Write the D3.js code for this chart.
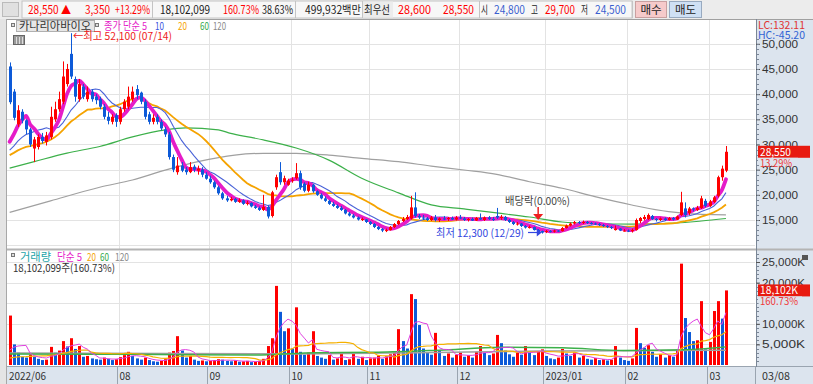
<!DOCTYPE html>
<html><head><meta charset="utf-8">
<script src="https://cdn.jsdelivr.net/npm/d3@7"></script>
<style>
html,body{margin:0;padding:0;background:#fff;overflow:hidden}
svg{display:block;font-family:"Noto Sans CJK KR","Noto Sans",sans-serif}
</style></head><body>
<svg id="c" width="813" height="384"></svg>
<script>
// ---------------- DATA ----------------
const stockName = "카나리아바이오";
// closes of the 19 sessions before the first visible candle (inferred from MA start levels)
const priorCloses = [26500,27000,27300,26800,26600,27200,27000,26900,26700,26900,27400,27000,27300,27200,27350,28000,28500,28800,29000];
const opens = [45500,40500,34000,36500,34800,33000,29200,29500,31500,30500,31500,35000,37000,38500,42000,48000,43000,39000,41500,39000,
40500,39500,39000,37500,35500,34500,35800,34500,37000,37500,39000,41000,40300,38500,36000,34500,35500,34500,33000,32000,
27500,24500,25800,25000,24500,25600,24800,25000,24000,23200,22500,21500,20300,19300,18900,19200,18600,18900,18200,18400,
17700,17400,17000,17600,15800,21500,24500,22500,22000,22800,23300,24300,22200,20800,22000,20700,20000,19300,18800,18200,
17800,17400,17000,16300,15900,15500,15000,15100,14600,14200,13600,13200,12800,13000,13600,14200,14800,15200,15300,17500,
15800,15500,15300,15000,15500,15000,15300,15200,15400,15100,15500,15300,15000,15200,14900,15400,15000,15500,15200,15800,
15500,15600,15000,14600,14200,14300,13800,13500,13600,13000,12800,12600,12800,12700,12900,12800,13400,13900,14300,14600,
14400,14600,14400,14300,14200,14000,13800,13600,13000,13300,12800,12900,12800,13000,14800,15200,15200,15800,15200,15000,
15300,15000,15400,15100,16000,17300,16400,17300,17000,17400,18800,17800,18600,19800,23500,24800];
const highs = [46300,41000,37800,37000,35000,33300,31500,32000,32300,32500,37500,38500,40500,46500,46000,52100,43500,43000,42000,41500,
41000,40000,39500,38000,36500,36000,36200,37500,39000,41500,41500,41800,40500,39000,36500,36000,36000,35000,33500,32500,
28000,27500,26500,25500,26500,26000,25800,25500,24500,23800,22800,21800,20600,19800,19600,19400,19300,19100,18800,18500,
18000,17700,20000,17900,20800,24000,26500,23800,23200,23500,26300,24800,22500,22600,22200,20900,20300,19700,19000,18600,
18100,17800,17200,16600,16200,15700,15500,15200,14800,14400,13800,13400,13300,13800,14400,15000,15600,16000,19800,20500,
16200,16000,15600,15800,16000,15500,15800,15600,15700,15800,16000,15600,15400,15500,15600,16300,15700,15800,15600,17400,
16000,15800,15200,14800,14600,14400,14000,13900,13700,13200,12900,13000,13000,13100,13000,13600,14100,14500,14800,14800,
14900,14800,14600,14500,14400,14200,14000,13800,13900,13400,13200,13100,13300,15300,15600,16000,16300,16000,15400,15500,
15500,15600,15600,15900,20600,18500,17600,17500,17800,19800,19200,19000,19800,23800,25800,29700];
const lows = [38000,34800,33500,34200,32000,29500,26500,29000,30200,29800,31000,34500,36500,38000,41500,43000,38500,38500,39000,38500,
38500,38000,37000,35000,34000,34000,33500,34000,36500,37000,38500,39000,38000,35000,34000,34000,34000,32800,31500,27000,
24500,24000,24500,24000,24300,24500,24000,23500,23000,22200,21200,20000,19000,18600,18700,18400,18400,18000,17900,17500,
17200,16800,16800,15300,15500,21000,22000,22000,21800,22400,23000,21000,20500,20500,20400,19800,19100,18600,18000,17600,
17200,16800,16100,15700,15300,14900,14800,14400,14000,13400,13000,12600,12600,12900,13400,14000,14600,15000,15100,15500,
15200,15000,14800,14800,14700,14600,15000,14800,15000,14900,15200,14800,14700,14800,14800,15000,14800,15000,14800,15200,
15000,14800,14400,14000,13900,13600,13300,13300,12900,12600,12300,12400,12500,12500,12600,12700,13300,13700,14100,14200,
14200,14200,14100,14000,13800,13600,13400,13200,12900,12800,12700,12600,12500,12900,14400,14900,15000,15000,14700,14800,
14800,14900,14900,15000,15800,15500,16000,16700,16800,17200,17500,17600,18400,19500,22800,24500];
const closes = [38400,35300,36800,34800,33000,30000,31000,31500,30700,31800,35500,37000,39000,43500,45000,43500,39500,42000,39500,40500,
39000,38800,37500,35500,34700,35500,34500,37000,38500,39500,40500,39800,38500,35500,34500,35300,34500,33200,32000,27500,
25000,25800,24800,24500,25500,25000,25200,24000,23200,22500,21500,20300,19300,18900,19200,18600,18900,18200,18400,17700,
17400,17000,17600,15700,20500,23500,22500,23300,22800,23000,24300,21500,20800,22000,20700,20000,19300,18800,18200,17800,
17400,17000,16300,15900,15500,15100,15200,14600,14200,13600,13200,12900,13000,13600,14200,14800,15200,15600,17500,15800,
15500,15300,15000,15500,15000,15300,15200,15400,15100,15500,15300,15000,15200,14900,15400,15100,15500,15200,15000,15500,
15600,15000,14600,14200,14300,13800,13500,13600,13000,12800,12500,12800,12700,12900,12800,13400,13900,14300,14600,14400,
14600,14400,14300,14200,14000,13800,13600,13400,13300,12900,12900,12800,13000,15000,15400,15600,16000,15200,15000,15300,
15000,15400,15100,15700,18500,16000,17300,17200,17400,19300,17800,18700,19500,23500,25200,28550];
// volume in thousand shares
const priorVolumes = [900,1100,1000,1200,800,1000,1100,900,1000,1200,1000,900,1100,1000,800,1400,1600,1500,1500];
const volumes = [12000,5000,3000,2000,1800,2500,2000,1500,1200,1300,4400,3000,3500,5800,4500,6500,3900,4600,2000,2200,
1600,1400,1300,1800,1500,1200,1400,1900,2400,3200,2200,1600,1300,1800,1200,900,800,1000,1400,3000,
3400,7000,3500,1800,2200,1300,1000,1100,900,1000,1200,1400,1300,1000,900,1100,800,900,1000,700,
800,1000,1500,4600,6500,19200,12900,8200,8900,4000,14000,3200,2500,3000,8200,2200,1800,1500,2400,1300,
1600,3000,1200,1400,2800,1500,2000,1200,1600,1800,2300,1500,2100,2600,3000,8700,5800,4000,17200,16000,
9700,4000,3000,2500,7800,3500,2200,2800,1800,2500,3000,2000,2400,1800,3200,4600,3000,2400,2800,7300,
5300,3500,2600,2000,3000,2500,4600,3000,2400,3200,3800,2200,1600,1400,1800,3900,2800,2200,3000,1800,
2200,1500,1300,1700,1200,1400,1100,1300,4600,1800,1200,1000,1600,9000,5300,4200,4800,3200,2000,2600,
1800,2400,2000,3500,24600,11400,8000,5800,6000,15500,3800,5600,13100,15500,11263,18102];
// long moving averages (candle index, value)
const ma60Idx = [0,6,14,22,30,38,43,51,54,59,62,70,78,86,95,103,111,119,127,135,143,152,163,169,175];
const ma60Val = [25300,26600,28300,29600,31500,32900,33300,32900,32200,31400,30900,29300,26900,23300,20400,18000,17200,16400,15600,14600,14300,14200,14400,14800,15300];
const ma120Idx = [0,10,22,30,38,46,55,62,70,78,86,95,103,111,119,127,135,143,152,161,165,175];
const ma120Val = [16500,18800,21500,22950,24900,26580,27900,28240,28240,27900,27250,26580,25720,24930,24080,22600,21300,19630,17980,16650,16330,16000];
const volMa60Idx = [0,30,60,75,90,105,120,135,150,165,175];
const volMa60Val = [2700,2600,2400,3000,3100,3600,4300,4200,3500,3700,4400];
const volMa120Idx = [0,40,70,100,130,160,175];
const volMa120Val = [2900,2800,2700,3000,3400,3500,3600];
// axis labels
const monthTickIdx = [27,49,69,88,110,131,151,171];
const monthTickLabels = ["08","09","10","11","12","2023/01","02","03"];
const firstLabel = "2022/06", lastLabel = "03/08";
const priceTicks = [15000,20000,25000,30000,35000,40000,45000,50000];
const volTicks = [5000,10000,20000,25000];
const volGridTicks = [5000,10000,15000,20000,25000];
const highIdx = 15, highText = "←최고 52,100 (07/14)";
const lowIdx = 130, lowText = "최저 12,300 (12/29)";
const exDivIdx = 129, exDivText = "배당락(0.00%)";

// ---------------- DRAW ----------------
const RED="#ff0000", BLUE="#0d5ad8", AXBG="#dce4ee";
const svg=d3.select("#c");
const plotL=7, plotR=755, pTop=20, pBot=249, vTop=251, vBot=366;
const x=d3.scaleLinear().domain([-0.65,182.1]).range([plotL,plotR]);
const yP=d3.scaleLinear().domain([15000,50000]).range([220,43.8]);
const yV=d3.scaleLinear().domain([0,25000]).range([365,262]);

svg.append("rect").attr("width",813).attr("height",384).attr("fill","#fff");
svg.append("rect").attr("x",0).attr("y",19).attr("width",6).attr("height",365).attr("fill","#e4e4e4");
svg.append("line").attr("x1",6.5).attr("x2",6.5).attr("y1",19).attr("y2",384).attr("stroke","#a8a8a8");
svg.append("rect").attr("x",756).attr("y",19).attr("width",57).attr("height",348).attr("fill",AXBG);
svg.append("rect").attr("x",7).attr("y",366).attr("width",806).attr("height",18).attr("fill",AXBG);

const defs=svg.append("defs");
defs.append("clipPath").attr("id","cp").append("rect").attr("x",plotL).attr("y",pTop).attr("width",plotR-plotL+1).attr("height",pBot-pTop);
defs.append("clipPath").attr("id","cv").append("rect").attr("x",plotL).attr("y",vTop).attr("width",plotR-plotL+1).attr("height",vBot-vTop);

// gridlines
const grid=svg.append("g").attr("stroke","#e3e3e3").attr("stroke-width",1);
[10000].concat(priceTicks).forEach(v=>{const yy=Math.round(yP(v))+0.5; if(yy>pTop&&yy<pBot) grid.append("line").attr("x1",plotL).attr("x2",plotR).attr("y1",yy).attr("y2",yy);});
volGridTicks.forEach(v=>{const yy=Math.round(yV(v))+0.5; grid.append("line").attr("x1",plotL).attr("x2",plotR).attr("y1",yy).attr("y2",yy);});
monthTickIdx.forEach(i=>{const xx=Math.round(x(i))-0.5;
  grid.append("line").attr("x1",xx).attr("x2",xx).attr("y1",pTop).attr("y2",pBot);
  grid.append("line").attr("x1",xx).attr("x2",xx).attr("y1",vTop).attr("y2",vBot);});

// moving averages
function sma(vals, prior, n){
  const all=prior.concat(vals), off=prior.length;
  return vals.map((_,i)=>{const j=i+off; if(j-n+1<0) return null; let s=0; for(let k=j-n+1;k<=j;k++) s+=all[k]; return s/n;});
}
const ma5=sma(closes,priorCloses,5), ma10=sma(closes,priorCloses,10), ma20=sma(closes,priorCloses,20);
const vma5=sma(volumes,priorVolumes,5), vma20=sma(volumes,priorVolumes,20);
const lineOf=(sy)=>d3.line().defined(d=>d!=null).x((d,i)=>x(i)).y(d=>sy(d));
const sparse=(sy)=>d3.line().curve(d3.curveMonotoneX).x(d=>x(d[0])).y(d=>sy(d[1]));

const gp=svg.append("g").attr("clip-path","url(#cp)");
gp.append("path").attr("d",sparse(yP)(d3.zip(ma120Idx,ma120Val))).attr("fill","none").attr("stroke","#a0a0a0").attr("stroke-width",1.2);
gp.append("path").attr("d",sparse(yP)(d3.zip(ma60Idx,ma60Val))).attr("fill","none").attr("stroke","#3cb04a").attr("stroke-width",1.2);
gp.append("path").attr("d",lineOf(yP)(ma20)).attr("fill","none").attr("stroke","#f5a300").attr("stroke-width",1.8);
gp.append("path").attr("d",lineOf(yP)(ma10)).attr("fill","none").attr("stroke","#4a63d8").attr("stroke-width",1.1);
gp.append("path").attr("d",d3.line().curve(d3.curveMonotoneX).defined(d=>d!=null).x((d,i)=>x(i)).y(d=>yP(d))(ma5)).attr("fill","none").attr("stroke","#e51cc8").attr("stroke-width",3.8).attr("stroke-linejoin","round").attr("stroke-linecap","round");

// candles
const cg=gp.append("g");
closes.forEach((c,i)=>{
  const o=opens[i], up=c>=o, col=up?RED:BLUE, xx=Math.round(x(i));
  cg.append("line").attr("x1",xx+0.5).attr("x2",xx+0.5).attr("y1",yP(highs[i])).attr("y2",yP(lows[i])).attr("stroke",col).attr("stroke-width",1);
  const y1=yP(Math.max(o,c)), y2=yP(Math.min(o,c));
  cg.append("rect").attr("x",xx-1).attr("width",3).attr("y",y1).attr("height",Math.max(1,y2-y1)).attr("fill",col);
});

// volume
const gv=svg.append("g").attr("clip-path","url(#cv)");
volumes.forEach((v,i)=>{
  const prev=i===0?priorVolumes[priorVolumes.length-1]:volumes[i-1];
  const col=v>=prev?RED:BLUE, xx=Math.round(x(i));
  gv.append("rect").attr("x",xx-1).attr("width",3).attr("y",yV(v)).attr("height",yV(0)-yV(v)).attr("fill",col);
});
gv.append("path").attr("d",sparse(yV)(d3.zip(volMa120Idx,volMa120Val))).attr("fill","none").attr("stroke","#a0a0a0").attr("stroke-width",1.5);
gv.append("path").attr("d",sparse(yV)(d3.zip(volMa60Idx,volMa60Val))).attr("fill","none").attr("stroke","#3cb04a").attr("stroke-width",1.5);
gv.append("path").attr("d",lineOf(yV)(vma20)).attr("fill","none").attr("stroke","#f5b000").attr("stroke-width",1.2);
gv.append("path").attr("d",lineOf(yV)(vma5)).attr("fill","none").attr("stroke","#e040e0").attr("stroke-width",1);

// panel borders
svg.append("line").attr("x1",7).attr("x2",813).attr("y1",19.5).attr("y2",19.5).attr("stroke","#a0a0a0");
svg.append("rect").attr("x",7).attr("y",248.5).attr("width",806).attr("height",2).attr("fill","#b4b4b4");
svg.append("line").attr("x1",7).attr("x2",813).attr("y1",366.5).attr("y2",366.5).attr("stroke","#9aa4b0");
svg.append("line").attr("x1",756.5).attr("x2",756.5).attr("y1",19).attr("y2",367).attr("stroke","#7a8696");

// text helper (fits to the width measured on the reference)
const T=(t,xx,yy,col,sz,w,anchor)=>{const e=svg.append("text").attr("x",xx).attr("y",yy).attr("fill",col).attr("font-size",sz||11).attr("text-anchor",anchor||"start").text(t);
  if(w) e.attr("textLength",w).attr("lengthAdjust","spacingAndGlyphs"); return e;};

// price axis
const fmt=d3.format(",");
const pa=svg.append("g").attr("transform","translate(756,0)").call(d3.axisRight(yP).tickValues(priceTicks).tickFormat(fmt).tickSize(4).tickPadding(2));
pa.select(".domain").remove();
pa.selectAll("text").attr("font-size",11).attr("fill","#333").attr("textLength",36).attr("lengthAdjust","spacingAndGlyphs");
pa.selectAll("line").attr("stroke","#555");
const minor=svg.append("g").attr("stroke","#7a8696");
d3.range(11000,53001,1000).forEach(v=>{const yy=Math.round(yP(v))+0.5; if(yy>pTop+2&&yy<pBot) minor.append("line").attr("x1",757).attr("x2",759).attr("y1",yy).attr("y2",yy);});
d3.range(1000,27001,1000).forEach(v=>{const yy=Math.round(yV(v))+0.5; if(yy>vTop+2&&yy<vBot) minor.append("line").attr("x1",757).attr("x2",759).attr("y1",yy).attr("y2",yy);});
const va=svg.append("g").attr("transform","translate(756,0)").call(d3.axisRight(yV).tickValues(volTicks).tickFormat(d=>fmt(d)+"K").tickSize(4).tickPadding(2));
va.select(".domain").remove();
va.selectAll("text").attr("font-size",11).attr("fill","#333").attr("textLength",43).attr("lengthAdjust","spacingAndGlyphs");
va.selectAll("line").attr("stroke","#555");

// right-side labels
svg.append("rect").attr("x",757).attr("y",20).attr("width",52).attr("height",19).attr("fill",AXBG);
T("LC:132.11",758,29,"#e03434",11,47);
T("HC:-45.20",758,39,"#3163d4",11,47);
const lastC=closes[closes.length-1];
svg.append("rect").attr("x",758).attr("y",yP(lastC)-6).attr("width",52).attr("height",12).attr("fill","#e81a10");
T(fmt(lastC),760,yP(lastC)+4,"#fff",11,31);
svg.append("rect").attr("x",758).attr("y",yP(lastC)+6).attr("width",40).attr("height",7).attr("fill",AXBG);
T("13.29%",760,yP(lastC)+15,"#ef3a3a",11,32);
const lastV=volumes[volumes.length-1];
svg.append("rect").attr("x",758).attr("y",yV(lastV)-6).attr("width",52).attr("height",12).attr("fill","#e81a10");
T(fmt(Math.round(lastV))+"K",760,yV(lastV)+4,"#fff",11,38);
svg.append("rect").attr("x",758).attr("y",yV(lastV)+6).attr("width",44).attr("height",7).attr("fill",AXBG);
T("160.73%",760,yV(lastV)+15,"#ef3a3a",11,38);
svg.append("rect").attr("x",802).attr("y",255).attr("width",6).attr("height",5).attr("fill","#555");

// bottom axis labels
T(firstLabel,9,380,"#333",11,37);
monthTickIdx.forEach((i,k)=>{
  const xx=Math.round(x(i))-2.5;
  svg.append("line").attr("x1",xx).attr("x2",xx).attr("y1",367).attr("y2",384).attr("stroke","#9aa4b0");
  const lab=monthTickLabels[k];
  T(lab,xx+2,380,"#333",11,lab.length>2?37:11);
});
svg.append("line").attr("x1",755.5).attr("x2",755.5).attr("y1",367).attr("y2",384).attr("stroke","#9aa4b0");
T(lastLabel,762,380,"#333",11,28);

// legends
svg.append("rect").attr("x",11.5).attr("y",23.5).attr("width",3).attr("height",3).attr("fill","#ddd").attr("stroke","#777");
svg.append("rect").attr("x",16.5).attr("y",20.5).attr("width",78).attr("height",11).attr("fill","#e6e6e6").attr("stroke","#b0b0b0");
T(stockName,19,30,"#333",11,72);
svg.append("rect").attr("x",95.5).attr("y",23.5).attr("width",3).attr("height",3).attr("fill","#ddd").attr("stroke","#777");
T("종가 단순 5",104,30,"#e51cc8",11,43);
T("10",155,30,"#3a55e0",11,9);
T("20",178,30,"#f5a300",11,9);
T("60",200,30,"#2fa84a",11,9);
T("120",213,30,"#8a8a8a",11,13);
svg.append("rect").attr("x",13.5).attr("y",35.5).attr("width",11).attr("height",9).attr("fill","#9a9a9a").attr("stroke","#666");
[16.5,19.5,22.5].forEach(xx=>svg.append("line").attr("x1",xx).attr("x2",xx).attr("y1",37).attr("y2",44).attr("stroke","#ddd"));
svg.append("rect").attr("x",11.5).attr("y",253.5).attr("width",3).attr("height",3).attr("fill","#ddd").attr("stroke","#777");
T("거래량",20,261,"#22a4a8",11,31);
T("단순 5",57,261,"#e51cc8",11,25);
T("20",87,261,"#f5a300",11,9);
T("60",100,261,"#2fa84a",11,9);
T("120",115,261,"#8a8a8a",11,14);
T("18,102,099주(160.73%)",13,272,"#333",11,102);

// annotations
T(highText,x(highIdx)+2,40,"#ee2020",11,99);
T(exDivText,505,205,"#444",11,65);
const ex=x(exDivIdx);
svg.append("line").attr("x1",ex+0.5).attr("x2",ex+0.5).attr("y1",207).attr("y2",215).attr("stroke","#ee2020").attr("stroke-width",1.5);
svg.append("path").attr("d",`M${ex-4.5},214 L${ex+5.5},214 L${ex+0.5},220 Z`).attr("fill","#ee2020");
T(lowText,436,237,"#3347e0",11,88);
const lx=x(lowIdx);
svg.append("line").attr("x1",528).attr("x2",lx-4).attr("y1",232.5).attr("y2",232.5).attr("stroke","#3347e0").attr("stroke-width",1.2);
svg.append("path").attr("d",`M${lx-5},228.5 L${lx},232.5 L${lx-5},236.5 Z`).attr("fill","#3347e0");

// header
const hg=svg.append("g");
hg.append("rect").attr("width",813).attr("height",19).attr("fill","#ececec");
hg.append("rect").attr("x",22).attr("y",1).attr("width",610).attr("height",17).attr("fill","#f7f7f7").attr("stroke","#c4c4c4");
[152.5,295.5,362.5,479.5,632.5].forEach(xx=>hg.append("line").attr("x1",xx).attr("x2",xx).attr("y1",1).attr("y2",18).attr("stroke","#c4c4c4"));
hg.append("rect").attr("x",363).attr("y",1.5).attr("width",30).attr("height",16).attr("fill","#ececec");
hg.append("rect").attr("x",2.5).attr("y",2.5).attr("width",16).attr("height",14).attr("fill","#e0e0e0").attr("stroke","#bbb");
const H=[["28,550 ▲",28,RED,43],["3,350",85,RED,25],["+13.29%",115,RED,35],["18,102,099",160,"#222",50],["160.73%",223,RED,36],["38.63%",262,"#222",31],
["499,932백만",305,"#222",56],["최우선",364,"#222",26],["28,600",398,RED,33],["28,550",443,RED,31],["시",481,"#222",7],["24,800",494,"#3a5fd0",31],
["고",531,"#222",7],["29,700",545,RED,30],["저",581,"#222",7],["24,500",595,"#3a5fd0",31]];
H.forEach(h=>hg.append("text").attr("x",h[1]).attr("y",14).attr("fill",h[2]).attr("font-size",11.5).attr("textLength",h[3]).attr("lengthAdjust","spacingAndGlyphs").text(h[0]));
hg.append("rect").attr("x",635.5).attr("y",1.5).attr("width",31).attr("height",16).attr("fill","#f6caca").attr("stroke","#c9a0a0");
hg.append("text").attr("x",651).attr("y",14).attr("text-anchor","middle").attr("font-size",11.5).attr("fill","#222").text("매수");
hg.append("rect").attr("x",669.5).attr("y",1.5).attr("width",32).attr("height",16).attr("fill","#cfe0f4").attr("stroke","#98aac0");
hg.append("text").attr("x",685.5).attr("y",14).attr("text-anchor","middle").attr("font-size",11.5).attr("fill","#222").text("매도");
</script>
</body></html>
